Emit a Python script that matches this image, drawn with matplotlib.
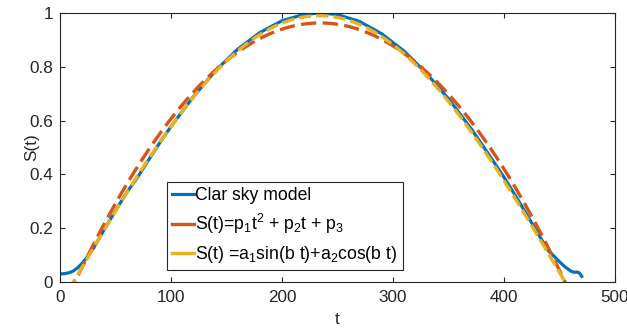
import numpy as np
import matplotlib
matplotlib.use("Agg")
import matplotlib.pyplot as plt

plt.rcParams['font.family'] = ['Liberation Sans', 'DejaVu Sans']
plt.rcParams['mathtext.fontset'] = 'custom'
plt.rcParams['mathtext.rm'] = 'Liberation Sans'
plt.rcParams['mathtext.it'] = 'Liberation Sans:italic'

# clear sky model
t_sky = [0, 4, 8, 12, 16, 20, 25, 30, 40, 50, 60, 70, 80, 90, 100, 120, 140,
         160, 180, 200, 220, 235, 250, 270, 290, 310, 330, 350, 370, 380, 390,
         400, 410, 420, 430, 440, 445, 450, 455, 460, 463, 466, 468, 470]
s_sky = [0.030, 0.031, 0.034, 0.041, 0.053, 0.070, 0.095, 0.124, 0.196,
         0.265, 0.332, 0.390, 0.455, 0.518, 0.578, 0.688, 0.785, 0.865, 0.927,
         0.971, 0.995, 1.000, 0.994, 0.968, 0.922, 0.858, 0.776, 0.681, 0.572,
         0.512, 0.451, 0.389, 0.323, 0.254, 0.184, 0.116, 0.096, 0.075, 0.056,
         0.041, 0.036, 0.037, 0.033, 0.021]

# fitted coefficients
p1, p2, p3 = -1.9762e-5, 0.009258, -0.1214
a1, a2, b = 0.9864, -0.0842, 0.0070916

t_fit = np.linspace(0, 470, 941)
s_poly = p1 * t_fit**2 + p2 * t_fit + p3
s_sin = a1 * np.sin(b * t_fit) + a2 * np.cos(b * t_fit)

fig = plt.figure(figsize=(6.27, 3.32), dpi=100)
ax = fig.add_axes([0.0957, 0.1506, 0.8852, 0.8104])

ax.plot(t_sky, s_sky, color='#0072BD', lw=2.3, label='Clar sky model')
ax.plot(t_fit, s_poly, color='#D95319', lw=2.4, dashes=(4.6, 1.9),
        label='S(t)=p$_1$t$^2$ + p$_2$t + p$_3$')
ax.plot(t_fit, s_sin, color='#EDB120', lw=2.4, dashes=(3.7, 1.5),
        label='S(t) =a$_1$sin(b t)+a$_2$cos(b t)')

ax.set_xlim(0, 500)
ax.set_ylim(0, 1)
ax.set_xticks(np.arange(0, 501, 100))
ax.set_yticks([0, 0.2, 0.4, 0.6, 0.8, 1])
ax.set_yticklabels(['0', '0.2', '0.4', '0.6', '0.8', '1'])
ax.tick_params(direction='in', length=3.5, width=0.8, color='#262626',
               labelcolor='#262626', labelsize=12.3, top=True, right=True)
ax.tick_params(axis='x', pad=6)
ax.tick_params(axis='y', pad=5)
for sp in ax.spines.values():
    sp.set_color('#262626')
    sp.set_linewidth(0.8)

ax.set_xlabel('t', fontsize=12.3, color='#262626', labelpad=5)
ax.set_ylabel('S(t)', fontsize=12.3, color='#262626', labelpad=-7)

leg = ax.legend(loc='upper left', bbox_to_anchor=(0.193, 0.372), fontsize=12.7,
                handlelength=1.2, handletextpad=0.1, borderpad=0.3,
                labelspacing=0.45, borderaxespad=0, fancybox=False,
                framealpha=1, edgecolor='#262626')
leg.get_frame().set_linewidth(0.8)
for h in leg.get_lines():
    h.set_linestyle('-')

fig.savefig('out.png', dpi=100)
